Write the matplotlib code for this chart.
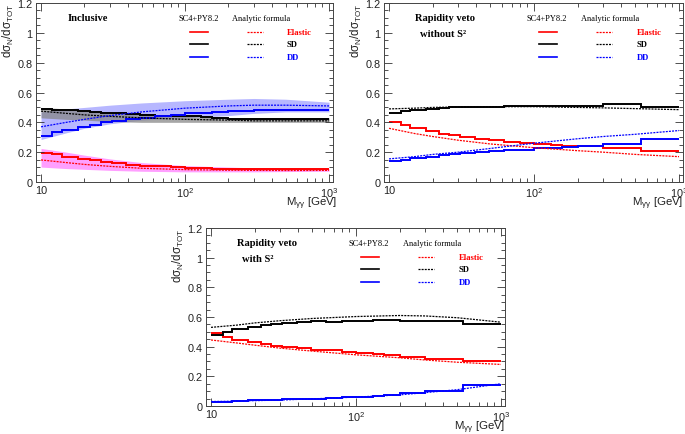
import numpy as np
import matplotlib
matplotlib.use("Agg")
import matplotlib.pyplot as plt
from matplotlib.ticker import FixedLocator, FixedFormatter, MultipleLocator, LogLocator, NullFormatter

plt.rcParams['font.family'] = ['Liberation Sans', 'DejaVu Sans']
plt.rcParams['mathtext.fontset'] = 'custom'
plt.rcParams['mathtext.rm'] = 'Liberation Sans'
plt.rcParams['mathtext.it'] = 'Liberation Sans'
plt.rcParams['mathtext.bf'] = 'Liberation Sans:bold'

# ---------------- data ----------------
edges = [10, 12, 14, 18, 22, 26, 31, 39, 49, 62, 80, 100, 130, 155, 200, 300, 550, 1000]
xa = [10, 15, 20, 30, 50, 100, 200, 300, 500, 1000]

# Inclusive
inc_el = [0.197, 0.185, 0.17, 0.155, 0.145, 0.135, 0.125, 0.115, 0.11, 0.105, 0.10, 0.095, 0.093, 0.09, 0.088, 0.088, 0.088]
inc_sd = [0.49, 0.485, 0.48, 0.475, 0.47, 0.465, 0.46, 0.455, 0.45, 0.445, 0.44, 0.44, 0.435, 0.43, 0.425, 0.42, 0.42]
inc_dd = [0.31, 0.335, 0.35, 0.37, 0.385, 0.40, 0.41, 0.42, 0.43, 0.44, 0.45, 0.46, 0.465, 0.47, 0.475, 0.48, 0.48]
inc_el_a = [0.148, 0.13, 0.118, 0.105, 0.092, 0.083, 0.079, 0.078, 0.077, 0.078]
inc_sd_a = [0.475, 0.46, 0.45, 0.44, 0.43, 0.42, 0.415, 0.41, 0.41, 0.41]
inc_dd_a = [0.37, 0.40, 0.42, 0.445, 0.47, 0.495, 0.51, 0.515, 0.515, 0.51]
inc_el_lo = [0.10, 0.09, 0.085, 0.078, 0.072, 0.068, 0.068, 0.068, 0.07, 0.072]
inc_el_hi = [0.225, 0.20, 0.18, 0.155, 0.13, 0.11, 0.10, 0.095, 0.092, 0.09]
inc_sd_lo = [0.43, 0.42, 0.415, 0.405, 0.40, 0.40, 0.40, 0.40, 0.40, 0.40]
inc_sd_hi = [0.50, 0.49, 0.48, 0.47, 0.455, 0.44, 0.43, 0.43, 0.43, 0.43]
inc_dd_lo = [0.285, 0.33, 0.36, 0.39, 0.415, 0.43, 0.445, 0.46, 0.47, 0.47]
inc_dd_hi = [0.47, 0.49, 0.50, 0.515, 0.53, 0.545, 0.555, 0.56, 0.555, 0.535]

# Rapidity veto without S2
nos_el = [0.40, 0.38, 0.36, 0.34, 0.325, 0.315, 0.30, 0.29, 0.28, 0.27, 0.26, 0.255, 0.245, 0.24, 0.24, 0.225, 0.21]
nos_sd = [0.465, 0.475, 0.48, 0.49, 0.495, 0.50, 0.50, 0.50, 0.505, 0.51, 0.51, 0.51, 0.51, 0.51, 0.51, 0.52, 0.50]
nos_dd = [0.14, 0.145, 0.16, 0.17, 0.18, 0.185, 0.195, 0.20, 0.21, 0.215, 0.215, 0.225, 0.23, 0.235, 0.24, 0.255, 0.29]
nos_el_a = [0.36, 0.325, 0.305, 0.28, 0.255, 0.23, 0.21, 0.20, 0.185, 0.17]
nos_sd_a = [0.49, 0.495, 0.50, 0.503, 0.505, 0.505, 0.50, 0.497, 0.492, 0.485]
nos_dd_a = [0.155, 0.17, 0.185, 0.20, 0.225, 0.26, 0.29, 0.305, 0.32, 0.345]

# Rapidity veto with S2
wis_el = [0.49, 0.465, 0.445, 0.43, 0.415, 0.405, 0.40, 0.39, 0.38, 0.375, 0.365, 0.355, 0.35, 0.345, 0.33, 0.32, 0.30]
wis_sd = [0.48, 0.50, 0.52, 0.535, 0.545, 0.55, 0.56, 0.565, 0.57, 0.565, 0.575, 0.575, 0.58, 0.58, 0.575, 0.57, 0.55]
wis_dd = [0.03, 0.03, 0.035, 0.038, 0.04, 0.042, 0.045, 0.048, 0.05, 0.055, 0.058, 0.062, 0.068, 0.075, 0.09, 0.10, 0.14]
wis_el_a = [0.445, 0.425, 0.41, 0.39, 0.37, 0.345, 0.325, 0.31, 0.295, 0.28]
wis_sd_a = [0.53, 0.545, 0.56, 0.575, 0.59, 0.603, 0.61, 0.607, 0.595, 0.565]
wis_dd_a = [0.03, 0.033, 0.036, 0.04, 0.048, 0.06, 0.075, 0.09, 0.11, 0.15]

legend_labels = ['Elastic', 'SD', 'DD']
colors = ['#ff0000', '#000000', '#0000ff']
xticks = [10, 100, 1000]
xticklabels = ['10', '$10^{2}$', '$10^{3}$']

# ---------------- figure ----------------
fig = plt.figure(figsize=(6.85, 4.35), dpi=100)
ax1 = fig.add_axes([0.0526, 0.5793, 0.4336, 0.4115])
ax2 = fig.add_axes([0.5606, 0.5793, 0.4365, 0.4115])
ax3 = fig.add_axes([0.3007, 0.0644, 0.4365, 0.4092])

serif = ['Liberation Serif', 'DejaVu Serif']
dash = (0, (1.6, 0.9))


def style(ax, title1, title2=None, xlab_x=1.012):
    ax.set_xscale('log')
    ax.set_xlim(9.23, 1066)
    ax.set_ylim(0, 1.2)
    ax.xaxis.set_major_locator(FixedLocator(xticks))
    ax.xaxis.set_major_formatter(FixedFormatter(xticklabels))
    ax.xaxis.set_minor_locator(LogLocator(base=10, subs=np.arange(2, 10)))
    ax.xaxis.set_minor_formatter(NullFormatter())
    ax.yaxis.set_major_locator(MultipleLocator(0.2))
    ax.yaxis.set_minor_locator(MultipleLocator(0.05))
    ax.yaxis.set_major_formatter(plt.FuncFormatter(lambda v, p: ('%g' % round(v, 2))))
    ax.tick_params(which='both', direction='in', top=True, right=True, labelsize=7.8,
                   colors='#333333', labelcolor='#222222', width=0.6)
    ax.tick_params(which='major', length=5.5)
    ax.tick_params(which='minor', length=2.8)
    ax.tick_params(axis='x', which='major', pad=2.5)
    ax.tick_params(axis='y', which='major', pad=2.5)
    for s in ax.spines.values():
        s.set_linewidth(0.7)
        s.set_color('#444444')
    ax.text(-0.093, 1.0, r'd$\sigma_{N}$/d$\sigma_{TOT}$', transform=ax.transAxes, rotation=90,
            ha='center', va='top', fontsize=8.3, color='#222222')
    ax.text(xlab_x, -0.118, r'M$_{\gamma\gamma}$ [GeV]', transform=ax.transAxes,
            ha='right', va='center', fontsize=8.2, color='#222222')
    ax.text(0.105, 0.918, title1, transform=ax.transAxes, ha='left', va='center',
            fontsize=7.6, fontweight='bold', family=serif)
    if title2:
        ax.text(0.12, 0.828, title2, transform=ax.transAxes, ha='left', va='center',
                fontsize=7.6, fontweight='bold', family=serif)
    ax.text(0.478, 0.916, 'SC4+PY8.2', transform=ax.transAxes, ha='left', va='center',
            fontsize=6, family=serif)
    ax.text(0.66, 0.916, 'Analytic formula', transform=ax.transAxes, ha='left', va='center',
            fontsize=6, family=serif)
    ys = [0.838, 0.771, 0.698]
    for lab, c, y in zip(legend_labels, colors, ys):
        ax.plot([0.519, 0.579], [y, y], transform=ax.transAxes, color=c, lw=1.2)
        ax.plot([0.710, 0.764], [y, y], transform=ax.transAxes, color=c, lw=0.9, ls=dash)
        ax.text(0.845, y, lab, transform=ax.transAxes, ha='left', va='center',
                fontsize=6.2, fontweight='bold', color=c, family=serif)


def draw(ax, hists, anas):
    for h, a, c in zip(hists, anas, colors):
        ax.stairs(h, edges, color=c, lw=1.4, baseline=None)
        ax.plot(xa, a, color=c, lw=0.9, ls=dash)


# Panel 1 bands
ax1.fill_between(xa, inc_dd_lo, inc_dd_hi, color='#9999ff', alpha=0.7, lw=0)
ax1.fill_between(xa, inc_sd_lo, inc_sd_hi, color='#888888', alpha=0.75, lw=0)
ax1.fill_between(xa, inc_el_lo, inc_el_hi, color='#ff77ff', alpha=0.7, lw=0)
draw(ax1, [inc_el, inc_sd, inc_dd], [inc_el_a, inc_sd_a, inc_dd_a])
style(ax1, 'Inclusive', xlab_x=1.015)

draw(ax2, [nos_el, nos_sd, nos_dd], [nos_el_a, nos_sd_a, nos_dd_a])
style(ax2, 'Rapidity veto', 'without S²', xlab_x=1.0)

draw(ax3, [wis_el, wis_sd, wis_dd], [wis_el_a, wis_sd_a, wis_dd_a])
style(ax3, 'Rapidity veto', 'with S²', xlab_x=1.0)

fig.savefig('out.png', dpi=100)
